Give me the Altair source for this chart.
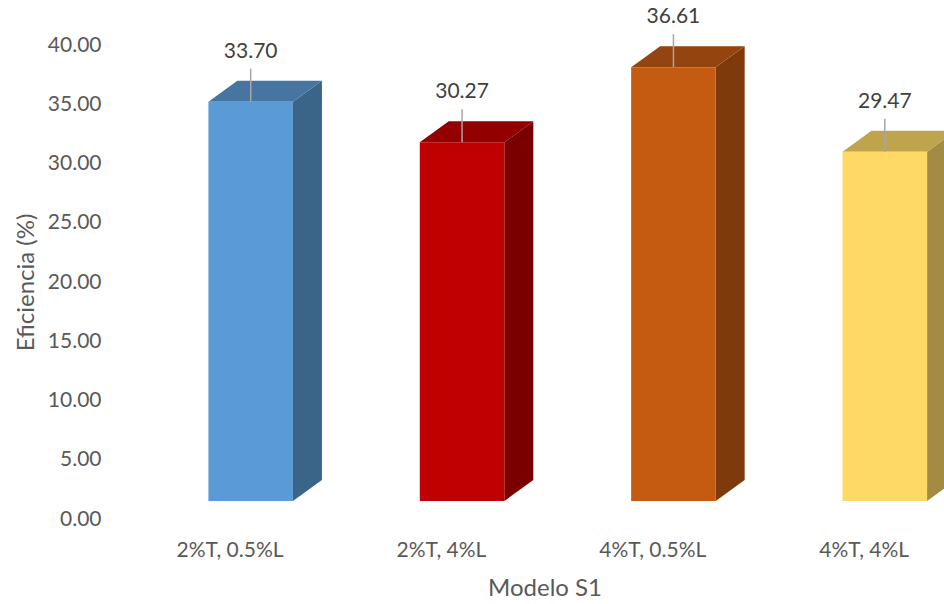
import altair as alt
import pandas as pd

# Efficiency per model variant (Modelo S1)
categories = ["2%T, 0.5%L", "2%T, 4%L", "4%T, 0.5%L", "4%T, 4%L"]
values = [33.70, 30.27, 36.61, 29.47]

# Face colours of each 3-D column: front, top, side
front_colors = ["#5B9BD5", "#C00000", "#C55A11", "#FFD966"]
top_colors = ["#4675A1", "#920000", "#94440E", "#BFA44E"]
side_colors = ["#3A6488", "#7A0000", "#7E3A0B", "#A38B43"]

# Geometry of the pseudo-3D columns (axis units)
BASE = 1.52        # lift of the front face above the floor
DEPTH_X = 0.137    # horizontal depth of the column
DEPTH_Y = 1.77     # vertical depth of the column
HALF_W = 0.2       # half width of the front face
X_MAX = 3.78

front_rows, side_rows, top_rows = [], [], []
for i, (cat, v) in enumerate(zip(categories, values)):
    xl, xr = i + 0.5 - HALF_W, i + 0.5 + HALF_W
    top = v + BASE
    front_rows.append(dict(cat=cat, xl=xl, xr=xr, xc=i + 0.5, y0=BASE, y1=top,
                           val=v, fill=front_colors[i]))
    side_rows += [
        dict(cat=cat, x=xr, y=BASE, y2=top, fill=side_colors[i]),
        dict(cat=cat, x=xr + DEPTH_X, y=BASE + DEPTH_Y, y2=top + DEPTH_Y, fill=side_colors[i]),
    ]
    top_rows += [
        dict(cat=cat, y=top, x=xl, x2=xr, fill=top_colors[i]),
        dict(cat=cat, y=top + DEPTH_Y, x=xl + DEPTH_X, x2=xr + DEPTH_X, fill=top_colors[i]),
    ]

front = pd.DataFrame(front_rows)
side = pd.DataFrame(side_rows)
topf = pd.DataFrame(top_rows)

FONT = "Lato"
GREY = "#595959"

label_expr = "[" + ",".join("'" + c + "'" for c in categories) + "][round(datum.value)]"
x_scale = alt.Scale(domain=[0, X_MAX], nice=False, zero=False)
y_scale = alt.Scale(domain=[0, 40], nice=False)

x_axis = alt.Axis(
    values=[i + 0.4 for i in range(len(categories))],
    labelExpr=label_expr,
    title="Modelo S1",
    domain=False, ticks=False, grid=False,
    labelPadding=20, titlePadding=16,
    labelFontSize=21, titleFontSize=24,
)
y_axis = alt.Axis(
    values=[0, 5, 10, 15, 20, 25, 30, 35, 40],
    format=".2f",
    title="Eficiencia (%)",
    domain=False, ticks=False, grid=False,
    labelPadding=44, titleX=-107,
    labelFontSize=21, titleFontSize=24,
)

side_layer = alt.Chart(side).mark_area(orient="vertical").encode(
    x=alt.X("x:Q", scale=x_scale, axis=x_axis),
    y=alt.Y("y:Q", scale=y_scale, axis=y_axis),
    y2="y2:Q",
    fill=alt.Fill("fill:N", scale=None),
    detail="cat:N",
)

top_layer = alt.Chart(topf).mark_area(orient="horizontal").encode(
    y=alt.Y("y:Q", scale=y_scale),
    x=alt.X("x:Q", scale=x_scale),
    x2="x2:Q",
    fill=alt.Fill("fill:N", scale=None),
    detail="cat:N",
)

front_layer = alt.Chart(front).mark_rect().encode(
    x=alt.X("xl:Q", scale=x_scale),
    x2="xr:Q",
    y=alt.Y("y0:Q", scale=y_scale),
    y2="y1:Q",
    fill=alt.Fill("fill:N", scale=None),
)

leaders = alt.Chart(front).mark_rule(color="#A6A6A6", strokeWidth=1.5, y2Offset=-33).encode(
    x=alt.X("xc:Q", scale=x_scale),
    y=alt.Y("y1:Q", scale=y_scale),
    y2="y1:Q",
)

labels = alt.Chart(front).mark_text(
    font=FONT, fontSize=21, color="#404040", dy=-50, baseline="middle"
).encode(
    x=alt.X("xc:Q", scale=x_scale),
    y=alt.Y("y1:Q", scale=y_scale),
    text=alt.Text("val:Q", format=".2f"),
)

chart = alt.layer(side_layer, top_layer, front_layer, leaders, labels).properties(
    width=799,
    height=474,
    padding={"left": 145, "top": 45, "right": 0, "bottom": 85},
    autosize=alt.AutoSizeParams(type="none"),
    background="white",
).configure_view(stroke=None).configure_axis(
    labelFont=FONT, titleFont=FONT, labelColor=GREY, titleColor=GREY,
    titleFontWeight="normal",
)

chart.save("out.html", embed_options={"renderer": "svg", "actions": False})
